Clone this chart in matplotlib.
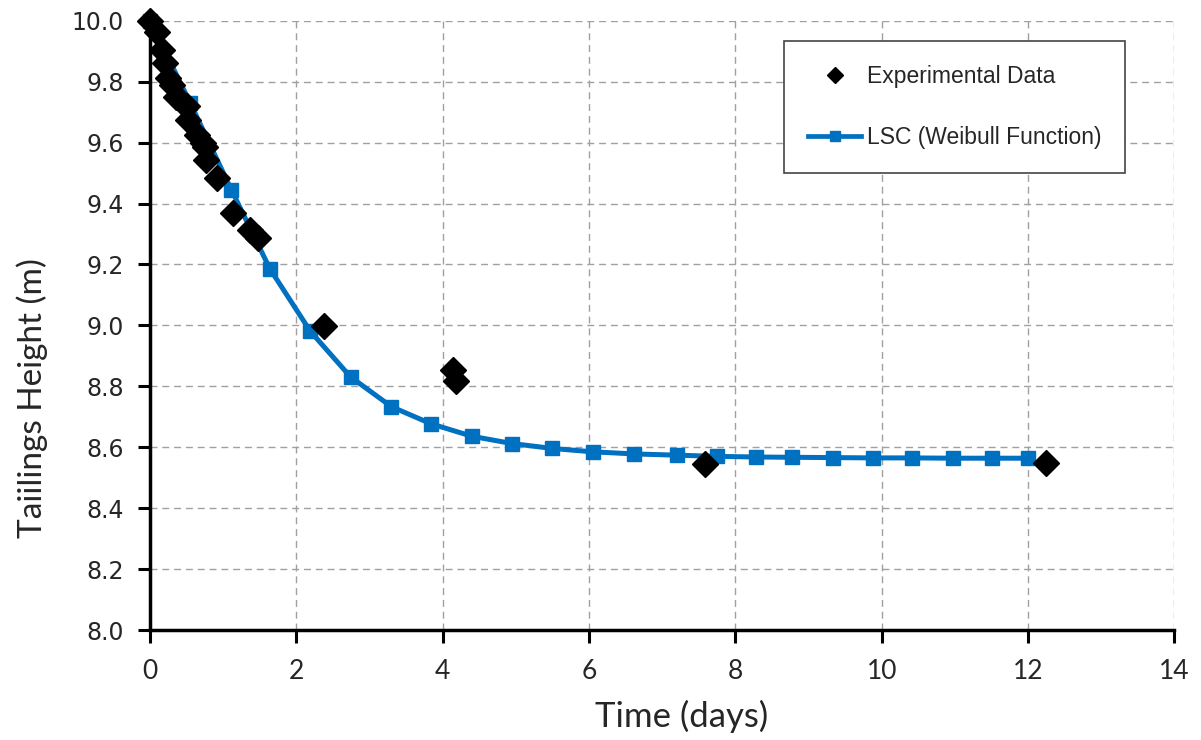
import matplotlib.pyplot as plt
from matplotlib.lines import Line2D

# experimental data (days, m)
exp_t = [0.0, 0.09, 0.16, 0.20, 0.25, 0.30, 0.36, 0.44, 0.50, 0.52, 0.64, 0.72,
         0.75, 0.77, 0.92, 1.14, 1.37, 1.47, 2.38, 4.14, 4.18, 7.58, 12.24]
exp_h = [10.0, 9.964, 9.904, 9.860, 9.811, 9.789, 9.750, 9.734, 9.72, 9.674, 9.625,
         9.60, 9.586, 9.543, 9.483, 9.368, 9.313, 9.287, 8.997, 8.853, 8.817,
         8.545, 8.548]

# LSC (Weibull function) curve values
lsc_t = [0.0, 0.55, 1.11, 1.64, 2.19, 2.74, 3.30, 3.84, 4.40, 4.95, 5.50, 6.05,
         6.62, 7.20, 7.75, 8.28, 8.77, 9.33, 9.88, 10.42, 10.98, 11.51, 12.0]
lsc_h = [10.0, 9.73, 9.446, 9.185, 8.981, 8.831, 8.733, 8.677, 8.636, 8.612,
         8.596, 8.585, 8.578, 8.574, 8.570, 8.568, 8.567, 8.566, 8.565, 8.565,
         8.564, 8.564, 8.564]

xticks = [0, 2, 4, 6, 8, 10, 12, 14]
yticks = [8.0, 8.2, 8.4, 8.6, 8.8, 9.0, 9.2, 9.4, 9.6, 9.8, 10.0]

blue = '#0070C0'
narrow = ['Lato', 'DejaVu Sans']

fig = plt.figure(figsize=(12.01, 7.40), dpi=100)
ax = fig.add_axes([0.1249, 0.1486, 0.853, 0.8234])

ax.plot(lsc_t, lsc_h, color=blue, lw=3.6, marker='s', ms=9.5, zorder=3,
        clip_on=False)
ax.plot(exp_t, exp_h, ls='none', marker='D', ms=13.5, color='black', zorder=4,
        clip_on=False)

ax.set_xlim(0, 14)
ax.set_ylim(8.0, 10.0)
ax.set_xticks(xticks)
ax.set_yticks(yticks)
ax.set_yticklabels(['%.1f' % v for v in yticks], fontsize=17, color='#262626')
ax.set_xticklabels([str(v) for v in xticks], family=narrow, fontsize=19,
                   color='#262626')

ax.grid(True, color='#a0a0a0', ls=(0, (5, 3.5)), lw=1.0)
ax.set_axisbelow(True)
for s in ['top', 'right']:
    ax.spines[s].set_visible(False)
for s in ['left', 'bottom']:
    ax.spines[s].set_linewidth(2.5)
ax.tick_params(direction='out', length=9, width=2.2)
ax.tick_params(axis='y', pad=10)
ax.tick_params(axis='x', pad=12)

ax.set_xlabel('Time (days)', family=narrow, fontsize=25, color='#262626')
ax.xaxis.set_label_coords(0.519, -0.115)
ax.set_ylabel('Taiilings Height (m)', family=narrow, fontsize=24,
              color='#262626')
ax.yaxis.set_label_coords(-0.1, 0.381)

handles = [
    Line2D([], [], ls='none', marker='D', ms=8, color='black'),
    Line2D([], [], color=blue, lw=3.4, marker='s', ms=6.5),
]
leg = ax.legend(handles, ['Experimental Data', 'LSC (Weibull Function)'],
                loc='upper left', bbox_to_anchor=(0.619, 0.9667),
                prop={'family': 'Liberation Sans', 'size': 16.5},
                frameon=True, fancybox=False, framealpha=1,
                edgecolor='#444444', labelspacing=1.65, borderpad=1.05,
                handlelength=2.3, handletextpad=0.25, borderaxespad=0)
leg.get_frame().set_linewidth(1.2)
for t in leg.get_texts():
    t.set_color('#262626')

fig.savefig('out.png', dpi=100)
